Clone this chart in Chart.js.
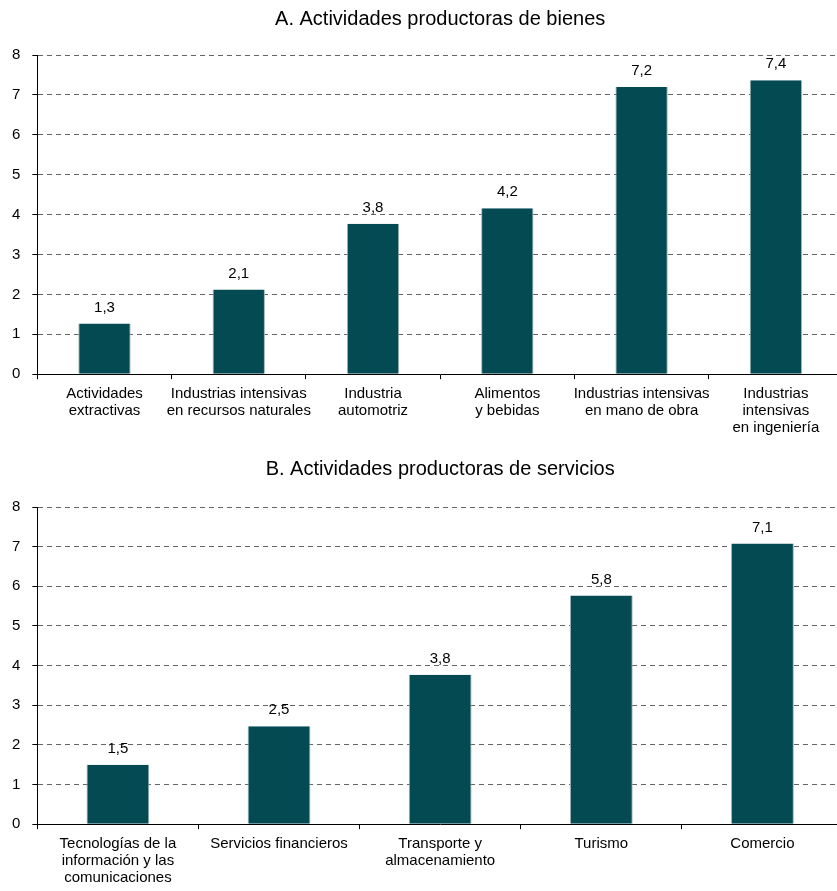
<!DOCTYPE html>
<html>
<head>
<meta charset="utf-8">
<script src="https://cdn.jsdelivr.net/npm/chart.js@4"></script>
<style>
  html, body { margin: 0; padding: 0; background: #fff; overflow: hidden; }
  #wrap { position: relative; width: 837px; height: 891px; overflow: hidden; }
  canvas { position: absolute; left: 0; }
  #chartA { top: 0; }
  #chartB { top: 450px; }
</style>
</head>
<body>
<div id="wrap">
  <canvas id="chartA" width="843" height="450"></canvas>
  <canvas id="chartB" width="843" height="442"></canvas>
</div>
<script>
// Panel A: bienes
const tituloA = 'A. Actividades productoras de bienes';
const categoriasA = [
  ['Actividades', 'extractivas'],
  ['Industrias intensivas', 'en recursos naturales'],
  ['Industria', 'automotriz'],
  ['Alimentos', 'y bebidas'],
  ['Industrias intensivas', 'en mano de obra'],
  ['Industrias', 'intensivas', 'en ingeniería']
];
const valoresA = [1.27, 2.12, 3.77, 4.16, 7.2, 7.37];

// Panel B: servicios
const tituloB = 'B. Actividades productoras de servicios';
const categoriasB = [
  ['Tecnologías de la', 'información y las', 'comunicaciones'],
  'Servicios financieros',
  ['Transporte y', 'almacenamiento'],
  'Turismo',
  'Comercio'
];
const valoresB = [1.5, 2.47, 3.77, 5.77, 7.08];

const ticksY = [0, 1, 2, 3, 4, 5, 6, 7, 8];

Chart.defaults.font.family = '"Liberation Sans", Arial, sans-serif';
Chart.defaults.font.size = 15;
Chart.defaults.color = '#000';

// etiquetas de valor sobre las barras
const etiquetas = {
  id: 'etiquetas',
  afterDatasetsDraw(chart) {
    const ctx = chart.ctx;
    const meta = chart.getDatasetMeta(0);
    const datos = chart.data.datasets[0].data;
    ctx.save();
    ctx.font = '15px "Liberation Sans", Arial, sans-serif';
    ctx.fillStyle = '#000';
    ctx.textAlign = 'center';
    ctx.textBaseline = 'middle';
    meta.data.forEach((bar, i) => {
      ctx.fillText(datos[i].toFixed(1).replace('.', ','), bar.x, bar.y - 16);
    });
    ctx.restore();
  }
};

function crearGrafico(id, titulo, categorias, valores, padAbajo, padTitulo) {
  return new Chart(document.getElementById(id), {
    type: 'bar',
    data: {
      labels: categorias,
      datasets: [{
        data: valores,
        backgroundColor: '#034a52',
        borderColor: '#9fb5b7',
        borderWidth: { left: 1, right: 1, top: 0, bottom: 0 },
        barPercentage: 0.39,
        categoryPercentage: 1
      }]
    },
    options: {
      responsive: false,
      animation: false,
      layout: { padding: { left: 0, right: 0, top: 0, bottom: padAbajo } },
      plugins: {
        legend: { display: false },
        tooltip: { enabled: false },
        title: {
          display: true,
          text: titulo,
          fullSize: false,
          color: '#000',
          font: { size: 20, weight: 'normal' },
          padding: { top: 7, bottom: padTitulo }
        }
      },
      scales: {
        x: {
          grid: { drawOnChartArea: false, tickLength: 5, tickColor: '#000', offset: true },
          border: { color: '#000', width: 1 },
          ticks: { padding: 6, maxRotation: 0, autoSkip: false, font: { size: 15, lineHeight: 1.13 } }
        },
        y: {
          min: 0,
          max: 8,
          afterBuildTicks: (axis) => { axis.ticks = ticksY.map(v => ({ value: v })); },
          grid: { color: '#666', lineWidth: 1, tickLength: 5, tickColor: '#000' },
          border: { color: '#000', width: 1, dash: [5, 4] },
          ticks: { padding: 12, font: { size: 15 } }
        }
      }
    },
    plugins: [etiquetas]
  });
}

crearGrafico('chartA', tituloA, categoriasA, valoresA, 8, 24);
crearGrafico('chartB', tituloB, categoriasB, valoresB, 0, 26);
</script>
</body>
</html>
